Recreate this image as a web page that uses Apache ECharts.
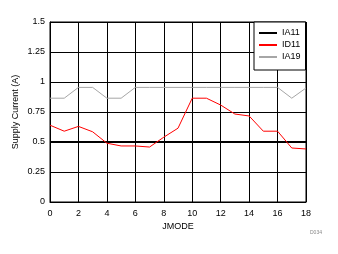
<!DOCTYPE html>
<html>
<head>
<meta charset="utf-8">
<script src="https://cdn.jsdelivr.net/npm/echarts@6/dist/echarts.min.js"></script>
<style>html,body{margin:0;padding:0;background:#fff;}#c{width:338px;height:254px;}</style>
</head>
<body>
<div id="c"></div>
<script>
var jmode = [0, 1, 2, 3, 4, 5, 6, 7, 8, 9, 10, 11, 12, 13, 14, 15, 16, 17, 18];
var ia11 = [0.5, 0.5, 0.5, 0.5, 0.5, 0.5, 0.5, 0.5, 0.5, 0.5, 0.5, 0.5, 0.5, 0.5, 0.5, 0.5, 0.5, 0.5, 0.5];
var id11 = [0.64, 0.59, 0.63, 0.585, 0.49, 0.467, 0.467, 0.458, 0.54, 0.615, 0.865, 0.865, 0.808, 0.733, 0.717, 0.59, 0.59, 0.45, 0.442];
var ia19 = [0.865, 0.865, 0.955, 0.955, 0.865, 0.865, 0.955, 0.955, 0.955, 0.955, 0.955, 0.955, 0.955, 0.955, 0.955, 0.955, 0.955, 0.865, 0.95];
var yTicks = [0, 0.25, 0.5, 0.75, 1, 1.25, 1.5];
var xTicks = [0, 2, 4, 6, 8, 10, 12, 14, 16, 18];

function pairs(xs, ys) { return xs.map(function (x, i) { return [x, ys[i]]; }); }

var font = 'Liberation Sans, Arial, sans-serif';
var chart = echarts.init(document.getElementById('c'), null, { renderer: 'canvas' });
chart.setOption({
  animation: false,
  backgroundColor: '#fff',
  grid: { left: 50, right: 32, top: 22, bottom: 52, show: true, borderColor: '#000', borderWidth: 1, outerBoundsMode: 'none', containLabel: false },
  xAxis: {
    type: 'value', min: xTicks[0], max: xTicks[xTicks.length - 1], interval: 2,
    name: 'JMODE', nameLocation: 'middle', nameGap: 20, nameMoveOverlap: false,
    nameTextStyle: { fontFamily: font, fontSize: 9, color: '#000' },
    axisLine: { show: true, lineStyle: { color: '#000', width: 1 } },
    axisTick: { show: false },
    axisLabel: { fontFamily: font, fontSize: 9, color: '#000', margin: 7 },
    splitLine: { show: true, lineStyle: { color: '#000', width: 1 } }
  },
  yAxis: {
    type: 'value', min: yTicks[0], max: yTicks[yTicks.length - 1], interval: 0.25,
    name: 'Supply Current (A)', nameLocation: 'middle', nameGap: 30, nameMoveOverlap: false,
    nameTextStyle: { fontFamily: font, fontSize: 9, color: '#000' },
    axisLine: { show: true, lineStyle: { color: '#000', width: 1 } },
    axisTick: { show: false },
    axisLabel: { fontFamily: font, fontSize: 9, color: '#000', margin: 5 },
    splitLine: { show: true, lineStyle: { color: '#000', width: 1 } }
  },
  legend: {
    orient: 'vertical', left: 254, top: 22,
    backgroundColor: '#fff', borderColor: '#000', borderWidth: 1,
    padding: [6, 5, 8, 5], itemGap: 2, itemWidth: 18, itemHeight: 2, icon: 'rect',
    textStyle: { fontFamily: font, fontSize: 9, color: '#000', lineHeight: 10 },
    data: ['IA11', 'ID11', 'IA19']
  },
  series: [
    { name: 'IA11', type: 'line', data: pairs(jmode, ia11), symbol: 'none', color: '#000', lineStyle: { color: '#000', width: 2 }, z: 3 },
    { name: 'ID11', type: 'line', data: pairs(jmode, id11), symbol: 'none', color: '#ff0000', lineStyle: { color: '#ff0000', width: 1 }, z: 4 },
    { name: 'IA19', type: 'line', data: pairs(jmode, ia19), symbol: 'none', color: '#a6a6a6', lineStyle: { color: '#a6a6a6', width: 1 }, z: 2 }
  ],
  graphic: [
    { type: 'text', left: 310, top: 230, style: { text: 'D034', fontFamily: font, fontSize: 5, fill: '#888' } }
  ]
});
</script>
</body>
</html>
